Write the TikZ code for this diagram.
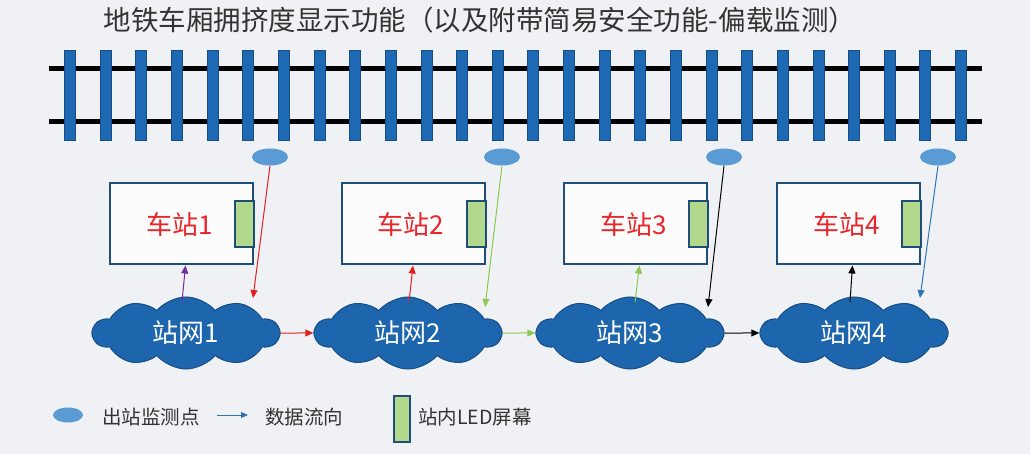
\documentclass[tikz,border=0pt]{standalone}
\usepackage{fontspec}
\setmainfont{Noto Sans CJK SC}
\usetikzlibrary{shapes.symbols,shapes.geometric,arrows.meta,calc}
\definecolor{bg}{HTML}{EFF1F4}
\definecolor{railblue}{HTML}{1E69B4}
\definecolor{railedge}{HTML}{174C85}
\definecolor{boxedge}{HTML}{1F4E79}
\definecolor{ledgreen}{HTML}{B2D88E}
\definecolor{monblue}{HTML}{5B9BD5}
\definecolor{cloudfill}{HTML}{1D65AC}
\definecolor{cloudedge}{HTML}{184E86}
\definecolor{stred}{HTML}{E8262A}
\definecolor{arred}{HTML}{E02020}
\definecolor{argreen}{HTML}{8CC850}
\definecolor{arpurple}{HTML}{7030A0}
\definecolor{arblue}{HTML}{2E75B6}
\definecolor{titlegray}{HTML}{333333}
\tikzset{
  sleeper/.style={fill=railblue,draw=railedge,line width=0.8pt},
  monitor/.style={ellipse,fill=monblue,draw=none,minimum width=36pt,minimum height=17pt,inner sep=0},
  station/.style={draw=boxedge,line width=2pt,fill=white,fill opacity=0.85,text opacity=1,minimum width=143pt,minimum height=81pt,inner sep=0},
  led/.style={draw=boxedge,line width=2pt,fill=ledgreen},
  stlabel/.style={text=stred,font=\fontsize{26}{28}\selectfont},
  net/.style={cloud,cloud puffs=10,cloud puff arc=100,aspect=2.6,fill=cloudfill,draw=cloudedge,line width=1pt,minimum width=186pt,minimum height=72pt,inner sep=0,text=white,font=\fontsize{26}{28}\selectfont},
  flow/.style={line width=1pt,-{Triangle[length=8pt,width=7pt]}},
  legtext/.style={font=\fontsize{19.5}{22}\selectfont,text=titlegray,anchor=west,inner sep=0}
}
\begin{document}
\begin{tikzpicture}[x=1pt,y=-1pt]
\fill[bg] (0,0) rectangle (1030,454);
\useasboundingbox (0,0) rectangle (1030,454);
% title
\node[font=\fontsize{27.5}{30}\selectfont,text=titlegray,inner sep=0] (title) at (480,20) {地铁车厢拥挤度显示功能（以及附带简易安全功能-偏载监测）};
% rails
\draw[line width=5pt,black] (49,69) -- (982,69);
\draw[line width=5pt,black] (49,122) -- (982,122);
\foreach \i in {0,...,25}{
  \pgfmathsetmacro{\xx}{70+35.64*\i}
  \draw[sleeper] (\xx-5.5,50) rectangle (\xx+5.5,140);
}
% monitors
\node[monitor] (m1) at (270,157) {};
\node[monitor] (m2) at (502,157) {};
\node[monitor] (m3) at (724,157) {};
\node[monitor] (m4) at (938,157) {};
% stations
\foreach \k/\x in {1/181.5,2/413,3/635.5,4/848.5}{
  \node[station] (s\k) at (\x,224) {};
  \draw[led] ($(s\k.east)+(-19,-23)$) rectangle ($(s\k.east)+(0,23)$);
  \node[stlabel] (sl\k) at ($(s\k.center)+(-2,1)$) {车站\k};
}
% clouds
\node[net] (n1) at (186,333) {站网1};
\node[net] (n2) at (408,333) {站网2};
\node[net] (n3) at (630,333) {站网3};
\node[net] (n4) at (854,333) {站网4};
% arrows station 1
\draw[flow,arpurple] ($(n1.center)+(-4,-31)$) -- ($(s1.south)+(4,0)$);
\draw[flow,arred] (m1.south) -- ($(n1.center)+(67,-35)$);
\draw[flow,arred] (n1.east) -- (n2.west);
% station 2
\draw[flow,arred] ($(n2.center)+(1,-31)$) -- ($(s2.south)+(0,0)$);
\draw[flow,argreen] (m2.south) -- ($(n2.center)+(77,-26)$);
\draw[flow,argreen] (n2.east) -- (n3.west);
% station 3
\draw[flow,argreen] ($(n3.center)+(5,-31)$) -- ($(s3.south)+(4,0)$);
\draw[flow,black] (m3.south) -- ($(n3.center)+(78,-26)$);
\draw[flow,black] (n3.east) -- (n4.west);
% station 4
\draw[flow,black] ($(n4.center)+(-4,-31)$) -- ($(s4.south)+(4,0)$);
\draw[flow,arblue] (m4.south) -- ($(n4.center)+(66,-35)$);
% legend
\node[monitor,minimum width=30pt,minimum height=15pt] (lm) at (68,415) {};
\node[legtext] (lt1) at (102,417) {出站监测点};
\coordinate (la1) at (217,415);
\coordinate (la2) at (248,415);
\draw[arblue,line width=1pt,-{Triangle[length=7pt,width=6pt]}] (la1) -- (la2);
\node[legtext] (lt2) at (265,417) {数据流向};
\node[led,minimum width=16pt,minimum height=46pt,inner sep=0] (ll) at (402,419) {};
\node[legtext] (lt3) at (418,417) {站内LED屏幕};
\end{tikzpicture}
\end{document}
